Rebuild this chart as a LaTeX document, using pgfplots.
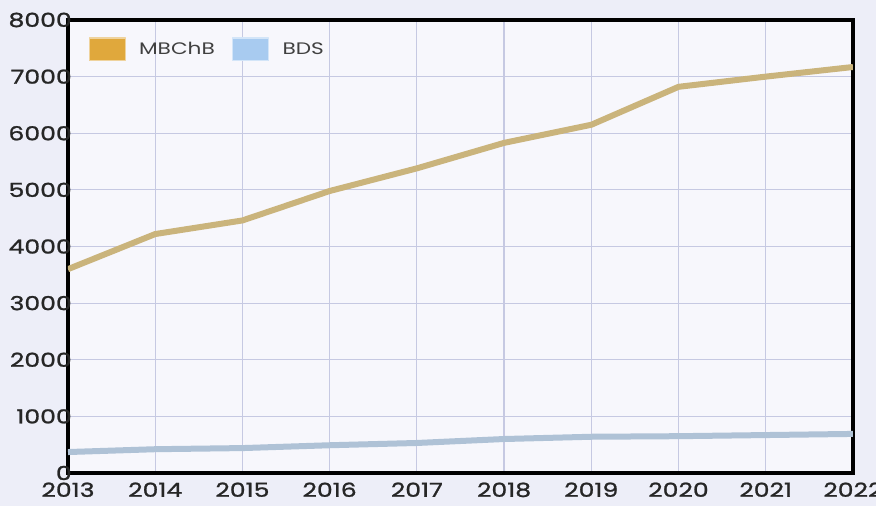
\documentclass[border=0pt]{standalone}
\usepackage{fontspec}
\setmainfont{Poppins}[FakeStretch=1.3, Numbers=Monospaced]
\newfontfamily\tickfont{Poppins}[FakeStretch=1.3, FakeBold=1.2, Numbers=Monospaced]
\usepackage{pgfplots}
\pgfplotsset{compat=1.18}
\definecolor{bgcol}{HTML}{EDEEF8}
\definecolor{gridcol}{HTML}{C6C9E2}
\definecolor{mbline}{HTML}{CAB47C}
\definecolor{mbbox}{HTML}{E0A83C}
\definecolor{bdsline}{HTML}{AFC2D6}
\definecolor{bdsbox}{HTML}{A8CBF0}
\begin{document}
\begin{tikzpicture}
\path[use as bounding box, fill=bgcol] (-51pt,-24.75pt) rectangle (606pt,354.75pt);
\clip (-51pt,-24.75pt) rectangle (606pt,354.75pt);
\begin{axis}[
  at={(0pt,0pt)}, anchor=south west,
  scale only axis, width=588.75pt, height=339.75pt,
  xmin=2013, xmax=2022, ymin=0, ymax=8000,
  xtick={2013,...,2022}, ytick={0,1000,...,8000},
  /pgf/number format/1000 sep={},
  /pgf/number format/assume math mode=true,
  grid=major, grid style={gridcol, line width=0.9pt},
  axis line style={black, line width=2.3pt},
  axis background/.style={fill=white!55!bgcol},
  tick style={draw=none},
  ticklabel style={font=\tickfont\fontsize{14.5}{16}\selectfont, text=black!85},
  yticklabel style={anchor=east, inner sep=0pt, xshift=3pt},
  xticklabel style={anchor=north, inner sep=0pt, yshift=-7pt},
  legend style={at={(0.026,0.962)}, anchor=north west, draw=none, fill=none,
    font=\fontsize{12.5}{15}\selectfont, text=black!75, inner sep=0pt,
    /tikz/every odd column/.append style={column sep=8pt},
    /tikz/every even column/.append style={column sep=11pt}},
  legend columns=2,
]
\addplot[mbline, line width=4.5pt, line join=round,
  legend image code/.code={\draw[fill=mbbox, draw=mbbox!50!white, line width=0.8pt] (0pt,-8.5pt) rectangle (27pt,8.5pt);}]
  coordinates {(2013,3600) (2014,4220) (2015,4460) (2016,4980) (2017,5380)
               (2018,5830) (2019,6150) (2020,6820) (2021,7000) (2022,7170)};
\addlegendentry{MBChB}
\addplot[bdsline, line width=4.5pt, line join=round,
  legend image code/.code={\draw[fill=bdsbox, draw=bdsbox!50!white, line width=0.8pt] (0pt,-8.5pt) rectangle (27pt,8.5pt);}]
  coordinates {(2013,370) (2014,420) (2015,440) (2016,490) (2017,530)
               (2018,600) (2019,640) (2020,650) (2021,670) (2022,690)};
\addlegendentry{BDS}
\end{axis}
\end{tikzpicture}
\end{document}
